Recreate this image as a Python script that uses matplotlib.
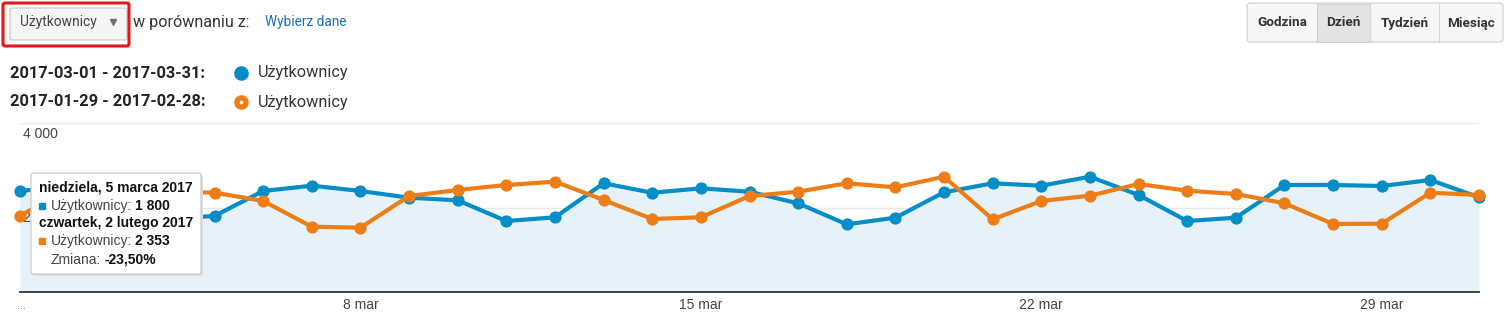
import matplotlib
matplotlib.use("Agg")
import matplotlib.pyplot as plt
from matplotlib.patches import FancyBboxPatch
from matplotlib.lines import Line2D
from matplotlib.transforms import IdentityTransform

W, H = 1504, 314
BLUE, ORANGE, FILL, INK, GRID = "#058dc7", "#ed7e17", "#e6f2f8", "#333333", "#e8e8e8"
UI = "Roboto"
CH = "Liberation Sans"

# ---- data ----
days = list(range(1, 32))
users_mar = [2391, 2509, 2462, 1728, 1800, 2391, 2516, 2391, 2232, 2170,
             1680, 1768, 2573, 2350, 2454, 2374, 2099, 1602, 1759, 2360,
             2573, 2516, 2729, 2296, 1680, 1759, 2533, 2533, 2509, 2651, 2241]
users_feb = [1799, 2462, 2509, 2367, 2353, 2154, 1546, 1522, 2272, 2414,
             2533, 2611, 2178, 1728, 1768, 2272, 2374, 2573, 2478, 2729,
             1720, 2154, 2280, 2556, 2398, 2320, 2099, 1610, 1617, 2350, 2296]
tick_days = [8, 15, 22, 29]
tick_labels = ["8 mar", "15 mar", "22 mar", "29 mar"]
grid_vals = [2000, 4000]
grid_labels = ["2 000", "4 000"]
period_labels = ["2017-03-01 - 2017-03-31:", "2017-01-29 - 2017-02-28:"]
buttons = ["Godzina", "Dzień", "Tydzień", "Miesiąc"]
button_edges = [1247, 1317, 1370, 1439, 1503]

IDT = IdentityTransform()
fig = plt.figure(figsize=(W / 100, H / 100), dpi=100)
fig.patch.set_facecolor("white")
R = fig.canvas.get_renderer()


def box(x0, y0, x1, y1, fc, ec, lw=1.0, r=3, z=5):
    p = FancyBboxPatch((x0, H - y1), x1 - x0, y1 - y0, boxstyle=f"round,pad=0,rounding_size={r}",
                       fc=fc, ec=ec, lw=lw, transform=IDT, zorder=z)
    fig.add_artist(p)
    return p


def txt(x, y, s, size, color=INK, weight="normal", family=UI, ha="left", z=6):
    return fig.text(x, H - y, s, fontsize=size, color=color, weight=weight, family=family,
                    ha=ha, va="center", transform=IDT, zorder=z)


def run(x, y, parts, size, family=CH, z=12, gap=3.5):
    for s, w, c in parts:
        t = txt(x, y, s, size, c, w, family, z=z)
        x = t.get_window_extent(R).x1 + gap


def dot(x, y, color, ms, marker="o", z=6):
    fig.add_artist(Line2D([x], [H - y], marker=marker, ms=ms, color=color, mec=color, lw=0,
                          transform=IDT, zorder=z))


# ---- header ----
box(3, 3, 129, 46, "none", "#e8151b", lw=2.2, r=2, z=7)
box(10, 8, 127, 40, "#f5f5f5", "#c8c8c8", lw=0.8, r=2)
txt(20, 22, "Użytkownicy", 9.9, "#444444")
dot(113, 22, "#707070", 4.0, marker="v")
txt(133, 22, "w porównaniu z:", 11.6, INK)
txt(265, 22, "Wybierz dane", 9.8, "#1a6dbb")

box(button_edges[0], 3, button_edges[-1], 42, "#f7f7f7", "#cfcfcf", lw=0.8, r=3)
fig.add_artist(plt.Rectangle((button_edges[1], H - 41.5), button_edges[2] - button_edges[1], 38,
                             fc="#e4e4e4", ec="#cfcfcf", lw=0.8, transform=IDT, zorder=5.5))
for e in button_edges[2:-1]:
    fig.add_artist(Line2D([e, e], [H - 41.5, H - 3.5], color="#d6d6d6", lw=0.8, transform=IDT, zorder=5.6))
for i, b in enumerate(buttons):
    txt((button_edges[i] + button_edges[i + 1]) / 2, 23, b, 9.7, INK, "bold", ha="center")

# ---- legend ----
for i, (lab, col) in enumerate(zip(period_labels, [BLUE, ORANGE])):
    y = 73 + 29 * i
    txt(10, y, lab, 11.8, "#222222", "bold")
    dot(241, y, col, 9.5)
    txt(258, y, "Użytkownicy", 11.7, INK)
dot(241, 102, "white", 1.6)

# ---- chart ----
ax = fig.add_axes([20 / W, 1 - 292 / H, 1459 / W, 169 / H])
ax.set_xlim(1, 31)
ax.set_ylim(0, 4000)
ax.fill_between(days, users_mar, color=FILL, lw=0, zorder=1)
for v in grid_vals:
    ax.axhline(v, color=GRID, lw=1, zorder=0.5)
ax.plot(days, users_mar, color=BLUE, lw=3, marker="o", ms=7.8, clip_on=False, zorder=3)
ax.plot(days, users_feb, color=ORANGE, lw=3, marker="o", ms=7.8, clip_on=False, zorder=4)
for v, lab in zip(grid_vals, grid_labels):
    ax.annotate(lab, (0, v), xycoords=("axes fraction", "data"), xytext=(3, -11),
                textcoords="offset pixels", fontsize=10, color="#444444", family=CH,
                va="center", ha="left", zorder=2)
for s in ("top", "left", "right"):
    ax.spines[s].set_visible(False)
ax.spines["bottom"].set_color(INK)
ax.spines["bottom"].set_linewidth(1.3)
ax.set_yticks([])
ax.set_xticks(tick_days, tick_labels)
ax.tick_params(axis="x", length=0, pad=4, labelsize=10, labelcolor="#444444")
for t in ax.get_xticklabels():
    t.set_family(CH)
txt(17, 306, "...", 8, "#666666", family=CH)

# ---- tooltip ----
box(33, 175, 203, 276, "#dddddd", "none", r=2, z=10)
box(31, 173, 201, 274, "white", "#cccccc", lw=0.9, r=2, z=11)
txt(39, 187, "niedziela, 5 marca 2017", 10, "#111111", "bold", CH, z=12)
dot(41.5, 206, BLUE, 4.2, marker="s", z=12)
run(50.5, 206, [("Użytkownicy:", "normal", "#444444"), ("1 800", "bold", "#111111")], 10)
txt(39, 223, "czwartek, 2 lutego 2017", 10, "#111111", "bold", CH, z=12)
dot(41.5, 241, ORANGE, 4.2, marker="s", z=12)
run(50.5, 241, [("Użytkownicy:", "normal", "#444444"), ("2 353", "bold", "#111111")], 10)
run(50.5, 260, [("Zmiana:", "normal", "#444444"), ("-23,50%", "bold", "#111111")], 10)

fig.savefig("out.png", dpi=100, facecolor="white")
